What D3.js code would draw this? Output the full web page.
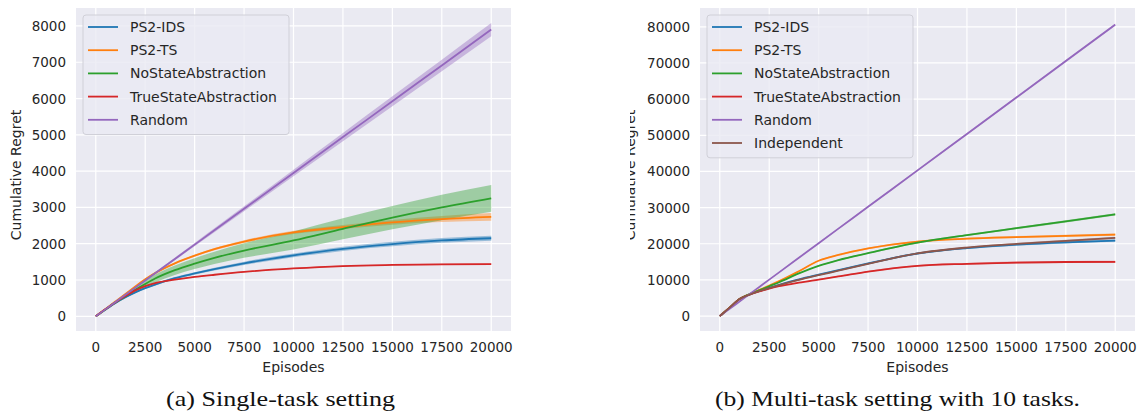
<!DOCTYPE html>
<html>
<head>
<meta charset="utf-8">
<script src="https://cdn.jsdelivr.net/npm/d3@7"></script>
<style>
  body { margin: 0; background: #fff; }
  text { font-family: "DejaVu Sans", sans-serif; }
  text.caption { font-family: "Liberation Serif", "DejaVu Serif", serif; }
</style>
</head>
<body>
<svg id="chart" width="1138" height="419"></svg>
<script>
var episodes = [0, 500, 1000, 1500, 2000, 2500, 3000, 4000, 5000, 6000, 7500, 10000, 12500, 15000, 17500, 20000];
var xTicks = [0, 2500, 5000, 7500, 10000, 12500, 15000, 17500, 20000];

// (a) single task: mean and half width of the band
var singleIds = [0, 190, 370, 525, 660, 775, 875, 1050, 1180, 1300, 1460, 1680, 1860, 1990, 2090, 2150];
var singleIdsBand = [0, 5, 10, 15, 20, 25, 28, 32, 36, 40, 45, 52, 58, 62, 66, 70];
var singleTs = [0, 205, 410, 615, 820, 1020, 1190, 1460, 1670, 1850, 2060, 2310, 2460, 2590, 2680, 2740];
var singleTsBand = [0, 5, 8, 12, 15, 18, 20, 24, 28, 32, 38, 45, 55, 65, 85, 105];
var singleNoAbs = [0, 195, 385, 560, 730, 890, 1040, 1270, 1450, 1610, 1810, 2090, 2410, 2720, 3000, 3250];
var singleNoAbsBand = [0, 20, 40, 60, 80, 100, 110, 130, 150, 170, 200, 250, 290, 320, 350, 370];
var singleTrue = [0, 200, 390, 560, 715, 830, 915, 1010, 1085, 1145, 1225, 1320, 1385, 1415, 1432, 1440];
var singleTrueBand = [0, 3, 5, 7, 9, 10, 10, 11, 12, 12, 13, 14, 15, 15, 15, 15];
var singleRandom = [0, 198, 395, 593, 790, 988, 1185, 1580, 1975, 2370, 2963, 3950, 4938, 5925, 6913, 7900];
var singleRandomBand = [0, 5, 9, 14, 18, 23, 27, 36, 45, 54, 68, 90, 113, 135, 158, 180];
var singleYTicks = [0, 1000, 2000, 3000, 4000, 5000, 6000, 7000, 8000];

// (b) multi task, 10 tasks
var multiIds = [0, 2350, 4700, 5950, 6950, 7850, 8650, 10150, 11450, 12700, 14550, 17300, 18800, 19750, 20400, 20850];
var multiTs = [0, 2350, 4700, 6050, 7250, 8400, 9650, 12400, 15300, 16900, 18700, 20600, 21400, 21850, 22200, 22500];
var multiNoAbs = [0, 2350, 4700, 6050, 7150, 8250, 9350, 11800, 13900, 15500, 17400, 20300, 22400, 24300, 26200, 28100];
var multiTrue = [0, 2350, 4700, 5900, 6800, 7600, 8250, 9250, 10100, 10950, 12300, 13900, 14450, 14800, 14950, 15000];
var multiRandom = [0, 2015, 4030, 6045, 8060, 10075, 12090, 16120, 20150, 24180, 30225, 40300, 50375, 60450, 70525, 80600];
var multiIndep = [0, 2350, 4700, 5900, 6900, 7750, 8550, 10000, 11300, 12550, 14450, 17350, 18950, 19950, 20800, 21650];
var multiBand = [0, 20, 40, 60, 80, 100, 110, 130, 150, 170, 190, 220, 250, 280, 300, 320];
var multiYTicks = [0, 10000, 20000, 30000, 40000, 50000, 60000, 70000, 80000];

var names = ["PS2-IDS", "PS2-TS", "NoStateAbstraction", "TrueStateAbstraction", "Random", "Independent"];
var colors = ["#1f77b4", "#ff7f0e", "#2ca02c", "#d62728", "#9467bd", "#8c564b"];

var svg = d3.select("#chart");
var defs = svg.append("defs");

function drawPanel(p) {
    var x = d3.scaleLinear().domain([-1000, 21000]).range([p.left, p.right]);
    var y = d3.scaleLinear().domain(p.yDomain).range([331, 8]);
    var g = svg.append("g");

    g.append("rect")
        .attr("x", p.left).attr("y", 8)
        .attr("width", p.right - p.left).attr("height", 323)
        .attr("fill", "#eaeaf2");

    g.selectAll(".gx").data(xTicks).enter().append("line")
        .attr("x1", d => x(d)).attr("x2", d => x(d))
        .attr("y1", 8).attr("y2", 331)
        .attr("stroke", "#fff").attr("stroke-width", 1.2);
    g.selectAll(".gy").data(p.yTicks).enter().append("line")
        .attr("x1", p.left).attr("x2", p.right)
        .attr("y1", d => y(d)).attr("y2", d => y(d))
        .attr("stroke", "#fff").attr("stroke-width", 1.2);

    g.selectAll(".tx").data(xTicks).enter().append("text")
        .attr("x", d => x(d)).attr("y", 352)
        .attr("text-anchor", "middle")
        .attr("font-size", "13.5px").attr("fill", "#262626")
        .text(d => d);
    g.selectAll(".ty").data(p.yTicks).enter().append("text")
        .attr("x", p.left - 10).attr("y", d => y(d) + 5)
        .attr("text-anchor", "end")
        .attr("font-size", "13.5px").attr("fill", "#262626")
        .text(d => d);

    g.append("text")
        .attr("x", (x(0) + x(20000)) / 2).attr("y", 372)
        .attr("text-anchor", "middle")
        .attr("font-size", "14px").attr("fill", "#262626")
        .text("Episodes");

    // y label; the right one is cut by the crop of the original figure
    var lab = g.append("g");
    if (p.clipLabel) {
        defs.append("clipPath").attr("id", "clip-label")
            .append("rect").attr("x", p.clipLabel).attr("y", 0)
            .attr("width", 100).attr("height", 419);
        lab.attr("clip-path", "url(#clip-label)");
    }
    lab.append("text")
        .attr("transform", "translate(" + p.ylabelX + ",175) rotate(-90)")
        .attr("text-anchor", "middle")
        .attr("font-size", "14px").attr("fill", "#262626")
        .text("Cumulative Regret");

    var area = d3.area()
        .x((d, i) => x(episodes[i]))
        .y0(d => y(d[0] - d[1]))
        .y1(d => y(d[0] + d[1]))
        .curve(d3.curveMonotoneX);
    var line = d3.line()
        .x((d, i) => x(episodes[i]))
        .y(d => y(d))
        .curve(d3.curveMonotoneX);

    p.series.forEach(function(s) {
        var bandData = s.values.map((v, i) => [v, s.band[i]]);
        g.append("path").datum(bandData)
            .attr("d", area)
            .attr("fill", colors[s.k]).attr("fill-opacity", 0.4);
    });
    p.series.forEach(function(s) {
        g.append("path").datum(s.values)
            .attr("d", line)
            .attr("fill", "none")
            .attr("stroke", colors[s.k]).attr("stroke-width", 1.8);
    });

    // legend
    var n = p.legend.length;
    var lg = g.append("g");
    lg.append("rect")
        .attr("x", p.legendX).attr("y", 15)
        .attr("width", 206).attr("height", 23.3 * n + 3)
        .attr("rx", 3)
        .attr("fill", "#eaeaf2").attr("fill-opacity", 0.8)
        .attr("stroke", "#d0d0d8");
    p.legend.forEach(function(k, i) {
        var yy = 27 + i * 23.2;
        lg.append("line")
            .attr("x1", p.legendX + 5).attr("x2", p.legendX + 35)
            .attr("y1", yy).attr("y2", yy)
            .attr("stroke", colors[k]).attr("stroke-width", 1.8);
        lg.append("text")
            .attr("x", p.legendX + 47).attr("y", yy + 5)
            .attr("font-size", "14px").attr("fill", "#262626")
            .text(names[k]);
    });

    svg.append("text")
        .attr("class", "caption")
        .attr("x", p.caption[1]).attr("y", 406)
        .attr("text-anchor", "middle")
        .attr("font-size", "21px").attr("fill", "#111")
        .attr("textLength", p.caption[2]).attr("lengthAdjust", "spacingAndGlyphs")
        .text(p.caption[0]);
}

drawPanel({
    left: 76, right: 511,
    yDomain: [-405, 8495],
    yTicks: singleYTicks,
    ylabelX: 21,
    legendX: 83,
    legend: [0, 1, 2, 3, 4],
    series: [
        { k: 0, values: singleIds, band: singleIdsBand },
        { k: 1, values: singleTs, band: singleTsBand },
        { k: 2, values: singleNoAbs, band: singleNoAbsBand },
        { k: 3, values: singleTrue, band: singleTrueBand },
        { k: 4, values: singleRandom, band: singleRandomBand }
    ],
    caption: ["(a) Single-task setting", 280.5, 229]
});

drawPanel({
    left: 700, right: 1135,
    yDomain: [-4130, 85200],
    yTicks: multiYTicks,
    ylabelX: 635,
    clipLabel: 630,
    legendX: 707,
    legend: [0, 1, 2, 3, 4, 5],
    series: [
        { k: 0, values: multiIds, band: multiBand },
        { k: 1, values: multiTs, band: multiBand },
        { k: 2, values: multiNoAbs, band: multiBand },
        { k: 3, values: multiTrue, band: multiBand },
        { k: 4, values: multiRandom, band: multiBand },
        { k: 5, values: multiIndep, band: multiBand }
    ],
    caption: ["(b) Multi-task setting with 10 tasks.", 897.5, 365]
});
</script>
</body>
</html>
